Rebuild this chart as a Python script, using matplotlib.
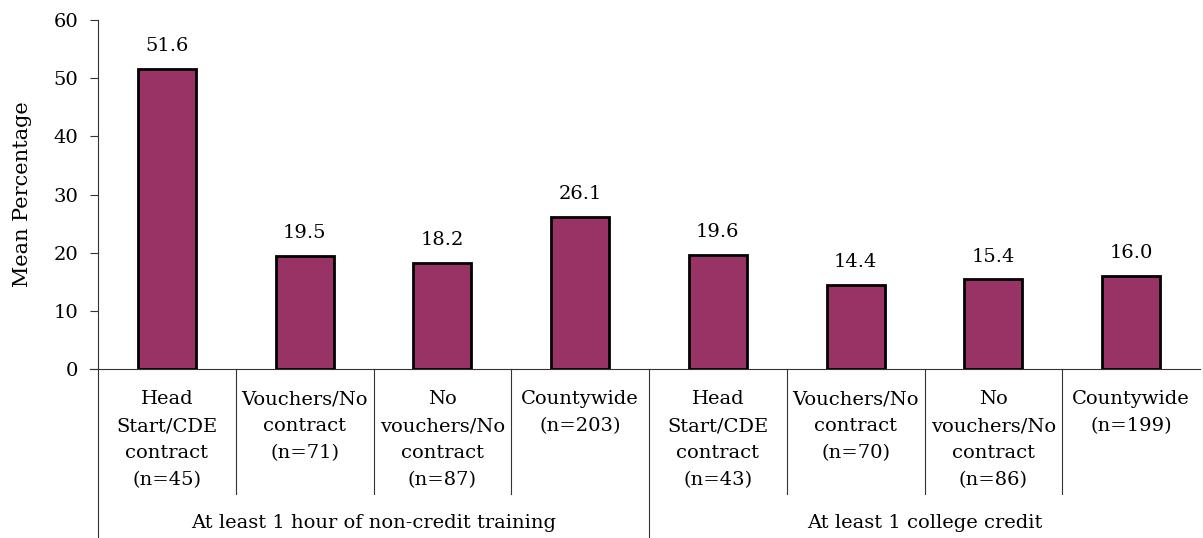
import matplotlib
matplotlib.use("Agg")
import matplotlib.pyplot as plt
from matplotlib.transforms import blended_transform_factory

plt.rcParams['font.family'] = ['DejaVu Serif']

categories = [
    "Head\nStart/CDE\ncontract\n(n=45)",
    "Vouchers/No\ncontract\n(n=71)",
    "No\nvouchers/No\ncontract\n(n=87)",
    "Countywide\n(n=203)",
    "Head\nStart/CDE\ncontract\n(n=43)",
    "Vouchers/No\ncontract\n(n=70)",
    "No\nvouchers/No\ncontract\n(n=86)",
    "Countywide\n(n=199)",
]
values = [51.6, 19.5, 18.2, 26.1, 19.6, 14.4, 15.4, 16.0]
groups = ["At least 1 hour of non-credit training", "At least 1 college credit"]
group_size = 4
y_ticks = [0, 10, 20, 30, 40, 50, 60]

bar_color = "#993366"
line_color = "#333333"
fs = 14

W, H = 1203, 538
fig = plt.figure(figsize=(W / 100, H / 100), dpi=100)
ax_left, ax_right, ax_top, ax_bottom = 98, 1200, 20, 369
ax = fig.add_axes([ax_left / W, (H - ax_bottom) / H,
                   (ax_right - ax_left) / W, (ax_bottom - ax_top) / H])

n = len(values)
x = list(range(n))
ax.bar(x, values, width=0.42, color=bar_color, edgecolor="black", linewidth=2, zorder=3)
for xi, v in zip(x, values):
    ax.annotate(f"{v:.1f}", (xi, v), xytext=(0, 10), textcoords="offset points",
                ha="center", va="bottom", fontsize=fs)

ax.set_xlim(-0.5, n - 0.5)
ax.set_ylim(0, 60)
ax.set_yticks(y_ticks)
ax.tick_params(axis="y", direction="out", length=6, width=0.8, color=line_color,
               labelsize=fs, pad=8)
ax.set_xticks([])
for side in ("top", "right"):
    ax.spines[side].set_visible(False)
ax.spines["left"].set_color(line_color)
ax.spines["left"].set_linewidth(0.8)
ax.spines["bottom"].set_color(line_color)
ax.spines["bottom"].set_linewidth(0.8)

# y-axis title
fig.text(23 / W, 1 - ((ax_top + ax_bottom) / 2) / H, "Mean Percentage",
         rotation=90, ha="center", va="center", fontsize=15)

# axis-fraction units for pixel rows below the plot
px = 1.0 / (ax_bottom - ax_top)
trans = blended_transform_factory(ax.transData, ax.transAxes)

# zero tick extending left of the axis
ax.plot([-0.5 - 8 / ((ax_right - ax_left) / n), -0.5], [0, 0], transform=trans,
        color=line_color, lw=0.8, clip_on=False)

# category labels
for xi, lab in zip(x, categories):
    ax.text(xi, -21 * px, lab, transform=trans, ha="center", va="top",
            fontsize=fs, linespacing=1.65)

# separators between categories, longer ones between groups
for b in range(n):
    xb = b - 0.5
    if b % group_size == 0:
        y_end = -(H - ax_bottom) * px
    else:
        y_end = -125 * px
    ax.plot([xb, xb], [0, y_end], transform=trans, color=line_color, lw=0.8,
            clip_on=False)

# group labels
for gi, g in enumerate(groups):
    cx = gi * group_size + (group_size - 1) / 2
    ax.text(cx, -154 * px, g, transform=trans, ha="center", va="center", fontsize=fs)

fig.savefig("out.png", dpi=100)
